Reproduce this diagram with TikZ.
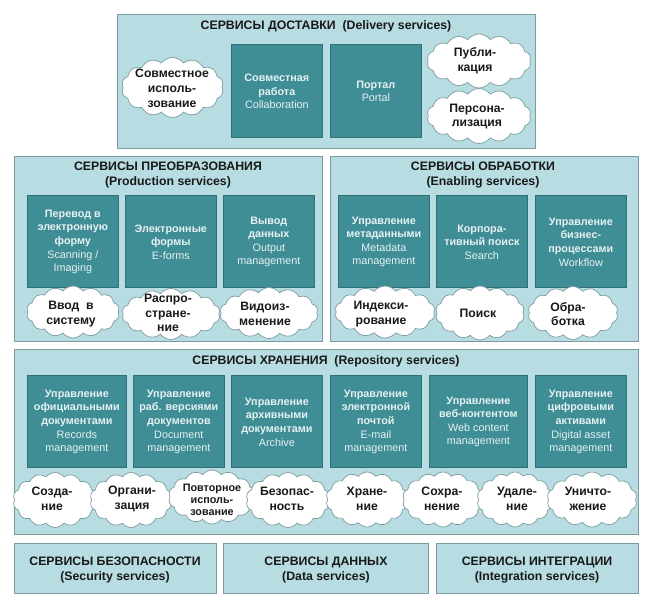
\documentclass[tikz,border=0pt]{standalone}
\usepackage{fontspec}
\setmainfont{Liberation Sans}
\usetikzlibrary{shapes.symbols}
\definecolor{panelfill}{HTML}{B7DDE2}
\definecolor{panelline}{HTML}{7C9A9F}
\definecolor{boxfill}{HTML}{3F8D95}
\definecolor{boxline}{HTML}{2F6F76}
\definecolor{boxtext}{HTML}{E6F2F3}
\tikzset{
  panel/.style={draw=panelline,line width=0.9pt,fill=panelfill,rectangle,inner sep=0pt},
  panelhead/.style={font=\bfseries\fontsize{12.3}{15.5}\selectfont,align=center,text=black!90,inner sep=0pt},
  bluebox/.style={draw=boxline,line width=0.7pt,fill=boxfill,rectangle,inner sep=0pt},
  boxlabel/.style={font=\fontsize{10.8}{13.6}\selectfont,align=center,text=boxtext,inner sep=0pt},
  puff/.style={cloud,cloud puffs=14,cloud puff arc=105,cloud ignores aspect,draw=panelline,line width=0.7pt,fill=white,inner sep=0pt},
  pufflabel/.style={font=\bfseries\fontsize{12.2}{14.8}\selectfont,align=center,text=black!90,inner sep=0pt},
  smallpuff/.style={font=\bfseries\fontsize{10.8}{12.2}\selectfont,align=center,text=black!90,inner sep=0pt}
}
\newcommand{\blue}[6]{\node[bluebox,minimum width=#4pt-#2pt,minimum height=#5pt-#3pt,anchor=north west] (#1) at (#2pt,-#3pt) {}; \node[boxlabel] (#1t) at ([yshift=-0.6pt]#1) {#6};}
% name, cx, cy, w, h, text x, text y, text
\newcommand{\cl}[8]{\node[puff,minimum width=#4pt,minimum height=#5pt] (#1) at (#2pt,-#3pt) {}; \node[pufflabel] (#1t) at (#6pt,-#7pt) {#8};}
\newcommand{\cls}[8]{\node[puff,minimum width=#4pt,minimum height=#5pt] (#1) at (#2pt,-#3pt) {}; \node[smallpuff] (#1t) at (#6pt,-#7pt) {#8};}
\newcommand{\pan}[5]{\node[panel,minimum width=#4pt-#2pt,minimum height=#5pt-#3pt,anchor=north west] (#1) at (#2pt,-#3pt) {};}
\begin{document}
\begin{tikzpicture}
\useasboundingbox[fill=white] (0,0) rectangle (647pt,-608pt);
% panels
\pan{del}{117}{14}{535}{148}
\pan{prod}{14}{156}{322}{341}
\pan{enab}{330}{156}{638}{341}
\pan{repo}{14}{349}{638}{534}
\pan{sec}{14}{543}{216}{593}
\pan{data}{223}{543}{428}{593}
\pan{integ}{436}{543}{638}{593}
% heads
\node[panelhead] (delh) at (326pt,-26.5pt) {СЕРВИСЫ ДОСТАВКИ\ \ (Delivery services)};
\node[panelhead] (prodh) at (168pt,-175pt) {СЕРВИСЫ ПРЕОБРАЗОВАНИЯ\\(Production services)};
\node[panelhead] (enabh) at (483pt,-175pt) {СЕРВИСЫ ОБРАБОТКИ\\(Enabling services)};
\node[panelhead] (repoh) at (326pt,-361.5pt) {СЕРВИСЫ ХРАНЕНИЯ\ \ (Repository services)};
\node[panelhead] (sech) at (115pt,-570pt) {СЕРВИСЫ БЕЗОПАСНОСТИ\\(Security services)};
\node[panelhead] (datah) at (326pt,-570pt) {СЕРВИСЫ ДАННЫХ\\(Data services)};
\node[panelhead] (integh) at (537pt,-570pt) {СЕРВИСЫ ИНТЕГРАЦИИ\\(Integration services)};
% delivery
\blue{b1}{231}{44}{322}{137}{\textbf{Совместная}\\\textbf{работа}\\Collaboration}
\blue{b2}{330}{44}{421}{137}{\textbf{Портал}\\Portal}
\cl{c1}{172.5}{87.5}{102}{60}{172}{88.5}{Совместное\\исполь-\\зование}
\cl{c2}{479}{61}{104}{54}{475}{60.5}{Публи-\\кация}
\cl{c3}{479}{116}{104}{55}{477}{116.5}{Персона-\\лизация}
% production
\blue{b3}{27}{195}{118}{287}{\textbf{Перевод в}\\\textbf{электронную}\\\textbf{форму}\\Scanning /\\Imaging}
\blue{b4}{125}{195}{216}{287}{\textbf{Электронные}\\\textbf{формы}\\E-forms}
\blue{b5}{223}{195}{314}{287}{\textbf{Вывод}\\\textbf{данных}\\Output\\management}
\cl{c4}{73}{312}{93}{52}{71}{314}{Ввод\ \ в\\систему}
\cl{c5}{171}{314}{98}{51}{168}{313}{Распро-\\стране-\\ние}
\cl{c6}{269}{313}{98}{51}{265}{314}{Видоиз-\\менение}
% enabling
\blue{b6}{338}{195}{429}{287}{\textbf{Управление}\\\textbf{метаданными}\\Metadata\\management}
\blue{b7}{436}{195}{527}{287}{\textbf{Корпора-}\\\textbf{тивный поиск}\\Search}
\blue{b8}{535}{195}{626}{287}{\textbf{Управление}\\\textbf{бизнес-}\\\textbf{процессами}\\Workflow}
\cl{c7}{385}{312}{100}{52}{381}{314}{Индекси-\\рование}
\cl{c8}{480}{313}{89}{54}{478}{313}{Поиск}
\cl{c9}{573}{313}{90}{53}{568}{314}{Обра-\\ботка}
% repository
\blue{b9}{27}{375}{126}{467}{\textbf{Управление}\\\textbf{официальными}\\\textbf{документами}\\Records\\management}
\blue{b10}{133}{375}{224}{467}{\textbf{Управление}\\\textbf{раб. версиями}\\\textbf{документов}\\Document\\management}
\blue{b11}{231}{375}{322}{467}{\textbf{Управление}\\\textbf{архивными}\\\textbf{документами}\\Archive}
\blue{b12}{330}{375}{421}{467}{\textbf{Управление}\\\textbf{электронной}\\\textbf{почтой}\\E-mail\\management}
\blue{b13}{429}{375}{527}{467}{\textbf{Управление}\\\textbf{веб-контентом}\\Web content\\management}
\blue{b14}{535}{375}{626}{467}{\textbf{Управление}\\\textbf{цифровыми}\\\textbf{активами}\\Digital asset\\management}
\cl{c10}{55}{500}{84}{55}{52}{499}{Созда-\\ние}
\cl{c11}{131}{500}{82}{55}{132}{499}{Органи-\\зация}
\cls{c12}{212}{497}{87}{54}{212}{500}{Повторное\\исполь-\\зование}
\cl{c13}{288}{500}{84}{55}{287}{499}{Безопас-\\ность}
\cl{c14}{367}{499.5}{82}{55}{367}{499}{Хране-\\ние}
\cl{c15}{443}{499.5}{81}{55}{442}{499}{Сохра-\\нение}
\cl{c16}{515}{499.5}{76}{55}{517}{499}{Удале-\\ние}
\cl{c17}{592}{499.5}{90}{55}{588}{499}{Уничто-\\жение}
\end{tikzpicture}
\end{document}
